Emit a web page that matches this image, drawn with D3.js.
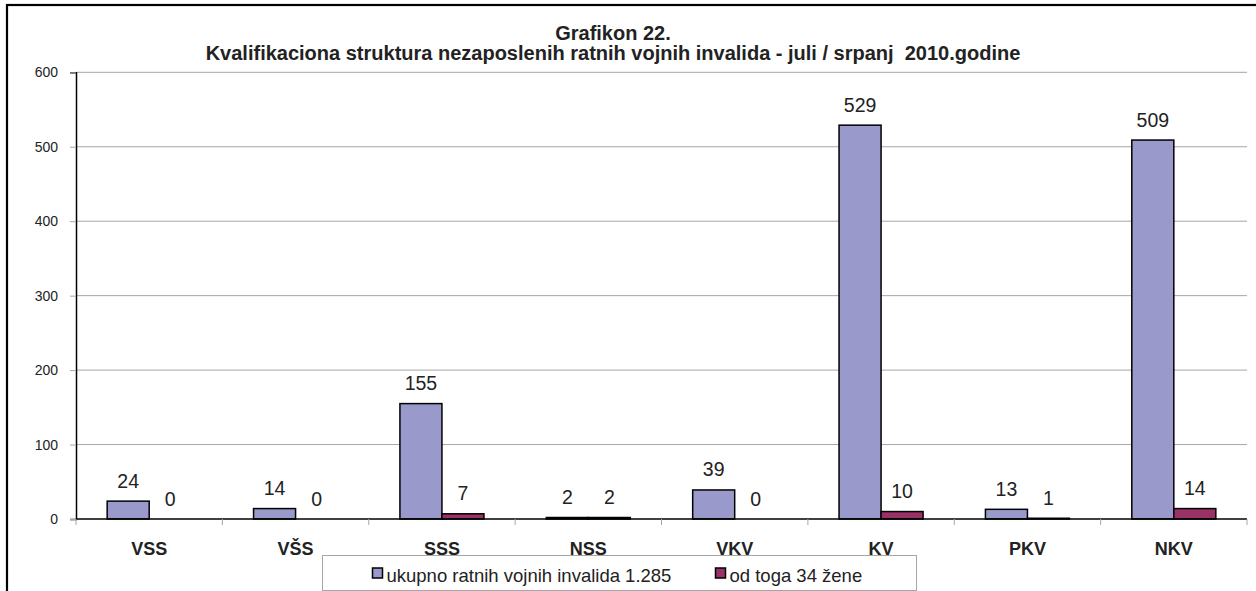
<!DOCTYPE html>
<html>
<head>
<meta charset="utf-8">
<script src="https://cdn.jsdelivr.net/npm/d3@7"></script>
<style>
  body { margin: 0; background: #fff; }
  svg { display: block; font-family: Arial, "Liberation Sans", sans-serif; }
  .title { white-space: pre; }
</style>
</head>
<body>
<div id="chart"></div>
<script>
// data
var categories = ["VSS", "VŠS", "SSS", "NSS", "VKV", "KV", "PKV", "NKV"];
var ukupno = [24, 14, 155, 2, 39, 529, 13, 509];
var zene = [0, 0, 7, 2, 0, 10, 1, 14];
var seriesNames = ["ukupno ratnih vojnih invalida 1.285", "od toga 34 žene"];
var seriesColors = ["#9999CC", "#993366"];
var yTicks = [0, 100, 200, 300, 400, 500, 600];
var titleLines = ["Grafikon 22.", "Kvalifikaciona struktura nezaposlenih ratnih vojnih invalida - juli / srpanj  2010.godine"];

var W = 1256, H = 591;
var plot = { left: 76, right: 1247, top: 72.3, bottom: 519 };

var svg = d3.select("#chart").append("svg")
    .attr("width", W)
    .attr("height", H);

// outer frame (right / bottom edges run off the page)
svg.append("rect")
    .attr("x", 7).attr("y", 5)
    .attr("width", 1270).attr("height", 620)
    .attr("fill", "none")
    .attr("stroke", "#000")
    .attr("stroke-width", 2.2);

// title
svg.selectAll(".title")
    .data(titleLines)
  .enter().append("text")
    .attr("class", "title")
    .attr("x", 613)
    .attr("y", (d, i) => 40 + i * 20)
    .attr("text-anchor", "middle")
    .attr("font-weight", "bold")
    .attr("font-size", "20px")
    .attr("fill", "#222")
    .text(d => d);

var x = d3.scaleBand()
    .domain(categories)
    .range([plot.left, plot.right])
    .padding(0);

var bw = x.bandwidth();
var barW = bw * 0.287;
var x1 = d3.scaleBand()
    .domain([0, 1])
    .range([bw / 2 - barW, bw / 2 + barW])
    .padding(0);

var y = d3.scaleLinear()
    .domain([0, 600])
    .range([plot.bottom, plot.top]);

// gridlines
svg.append("g")
    .selectAll("line")
    .data(yTicks.filter(d => d > 0))
  .enter().append("line")
    .attr("x1", plot.left)
    .attr("x2", plot.right)
    .attr("y1", d => y(d))
    .attr("y2", d => y(d))
    .attr("stroke", "#A6A6A6")
    .attr("stroke-width", 1);

// y axis
var yAxis = svg.append("g")
    .attr("transform", "translate(" + plot.left + ",0)")
    .call(d3.axisLeft(y).tickValues(yTicks).tickSize(6).tickPadding(12));
yAxis.select(".domain").attr("stroke", "#000").attr("stroke-width", 1.5);
yAxis.selectAll(".tick line").attr("stroke", "#A6A6A6");
yAxis.selectAll(".tick text")
    .attr("font-size", "14px")
    .attr("font-family", "Arial, 'Liberation Sans', sans-serif")
    .attr("fill", "#222");

// bars
var groups = svg.append("g")
    .selectAll("g")
    .data(categories)
  .enter().append("g")
    .attr("transform", d => "translate(" + x(d) + ",0)");

var barData = (d, i) => [
  { s: 0, v: ukupno[i] },
  { s: 1, v: zene[i] }
];

groups.selectAll("rect")
    .data(barData)
  .enter().append("rect")
    .attr("x", d => x1(d.s))
    .attr("y", d => y(d.v))
    .attr("width", x1.bandwidth())
    .attr("height", d => y(0) - y(d.v))
    .attr("fill", d => seriesColors[d.s])
    .attr("stroke", "#000")
    .attr("stroke-width", 1.5);

groups.selectAll("text")
    .data(barData)
  .enter().append("text")
    .attr("x", d => x1(d.s) + x1.bandwidth() / 2)
    .attr("y", d => y(d.v) - 13.5)
    .attr("text-anchor", "middle")
    .attr("font-size", "19.5px")
    .attr("fill", "#222")
    .text(d => d.v);

// x axis
var xAxis = svg.append("g")
    .attr("transform", "translate(0," + plot.bottom + ")");
xAxis.append("line")
    .attr("x1", plot.left).attr("x2", plot.right)
    .attr("stroke", "#000").attr("stroke-width", 1.5);
xAxis.selectAll(".xtick")
    .data(categories.concat(["end"]))
  .enter().append("line")
    .attr("x1", (d, i) => plot.left + i * bw)
    .attr("x2", (d, i) => plot.left + i * bw)
    .attr("y1", 0).attr("y2", 6)
    .attr("stroke", "#A6A6A6");
xAxis.selectAll(".xlabel")
    .data(categories)
  .enter().append("text")
    .attr("x", d => x(d) + bw / 2)
    .attr("y", 36)
    .attr("text-anchor", "middle")
    .attr("font-weight", "bold")
    .attr("font-size", "18px")
    .attr("fill", "#222")
    .text(d => d);

// legend
var legend = svg.append("g").attr("transform", "translate(322.5,555.5)");
legend.append("rect")
    .attr("width", 594).attr("height", 35)
    .attr("fill", "#fff")
    .attr("stroke", "#A6A6A6")
    .attr("stroke-width", 1);
var legendX = [50, 393];
var items = legend.selectAll(".item")
    .data(seriesNames)
  .enter().append("g")
    .attr("transform", (d, i) => "translate(" + legendX[i] + ",0)");
items.append("rect")
    .attr("y", 12.5)
    .attr("width", 10).attr("height", 10)
    .attr("fill", (d, i) => seriesColors[i])
    .attr("stroke", "#000")
    .attr("stroke-width", 1.5);
items.append("text")
    .attr("x", 14)
    .attr("y", 26)
    .attr("font-size", "18.5px")
    .attr("fill", "#222")
    .text(d => d);
</script>
</body>
</html>
